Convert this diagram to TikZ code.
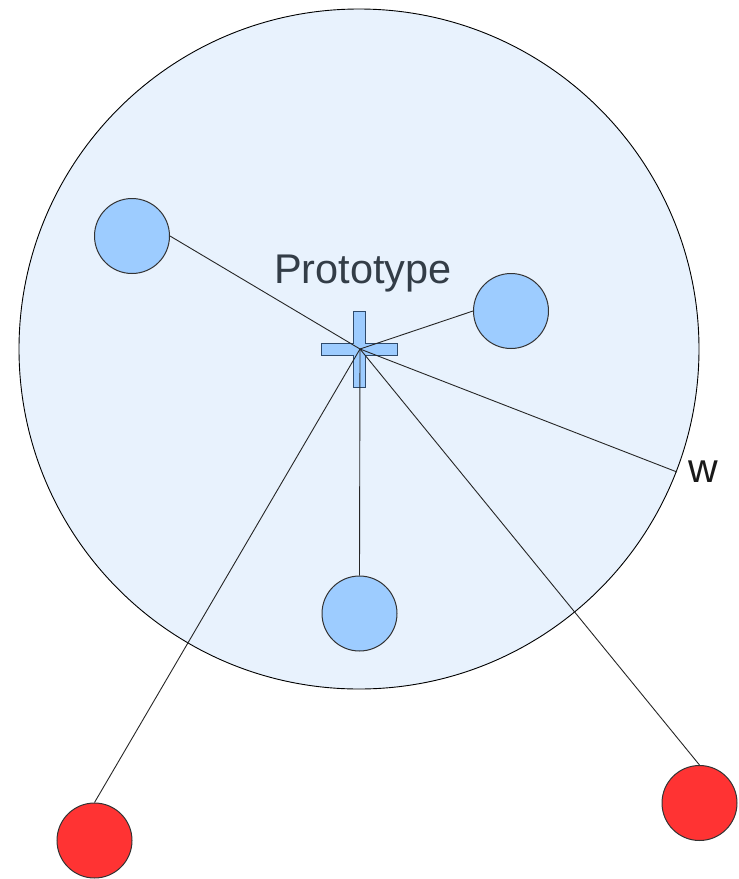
\documentclass[tikz,border=0pt]{standalone}
\usepackage{fontspec}
\setmainfont{Liberation Sans}
\definecolor{bigfill}{HTML}{E8F2FD}
\definecolor{bluefill}{HTML}{9DCCFF}
\definecolor{redfill}{HTML}{FF3333}
\definecolor{textgray}{HTML}{333D47}
\definecolor{crossedge}{HTML}{2E4A6B}
\tikzset{
  dot/.style={circle, draw=black!80, line width=1pt, inner sep=0pt, minimum size=75pt},
  bluedot/.style={dot, fill=bluefill},
  reddot/.style={dot, fill=redfill},
  link/.style={draw=black!85, line width=0.9pt},
}
\begin{document}
\begin{tikzpicture}[x=1pt,y=-1pt]
\useasboundingbox (0,0) rectangle (739,879);
\node[circle, draw=black, line width=0.9pt, fill=bigfill, inner sep=0pt, minimum size=680pt] (big) at (359,349) {};
\node[font=\fontsize{41.5}{45}\selectfont, text=textgray, anchor=base] (proto) at (363,283) {Prototype};
\node[font=\fontsize{41}{45}\selectfont, text=black!90, anchor=base] (wlab) at (703,482) {w};
% cross
\draw[fill=bluefill, draw=crossedge, line width=0.9pt] (353,311) -- (365,311) -- (365,343) -- (397,343) -- (397,355) -- (365,355) -- (365,387) -- (353,387) -- (353,355) -- (321,355) -- (321,343) -- (353,343) -- cycle;
\coordinate (c) at (360,349);
\coordinate (w) at (677,472);
\node[bluedot] (b1) at (132,236) {};
\node[bluedot] (b2) at (511,311) {};
\node[bluedot] (b3) at (359.5,613.5) {};
\node[reddot] (r1) at (94.5,840.5) {};
\node[reddot] (r2) at (699.5,803) {};
\draw[link] (c) -- (b1.east);
\draw[link] (c) -- (b2.west);
\draw[link] (c) -- (b3.north);
\draw[link] (c) -- (w);
\draw[link] (c) -- (r1.north);
\draw[link] (c) -- (r2.north);
\end{tikzpicture}
\end{document}
